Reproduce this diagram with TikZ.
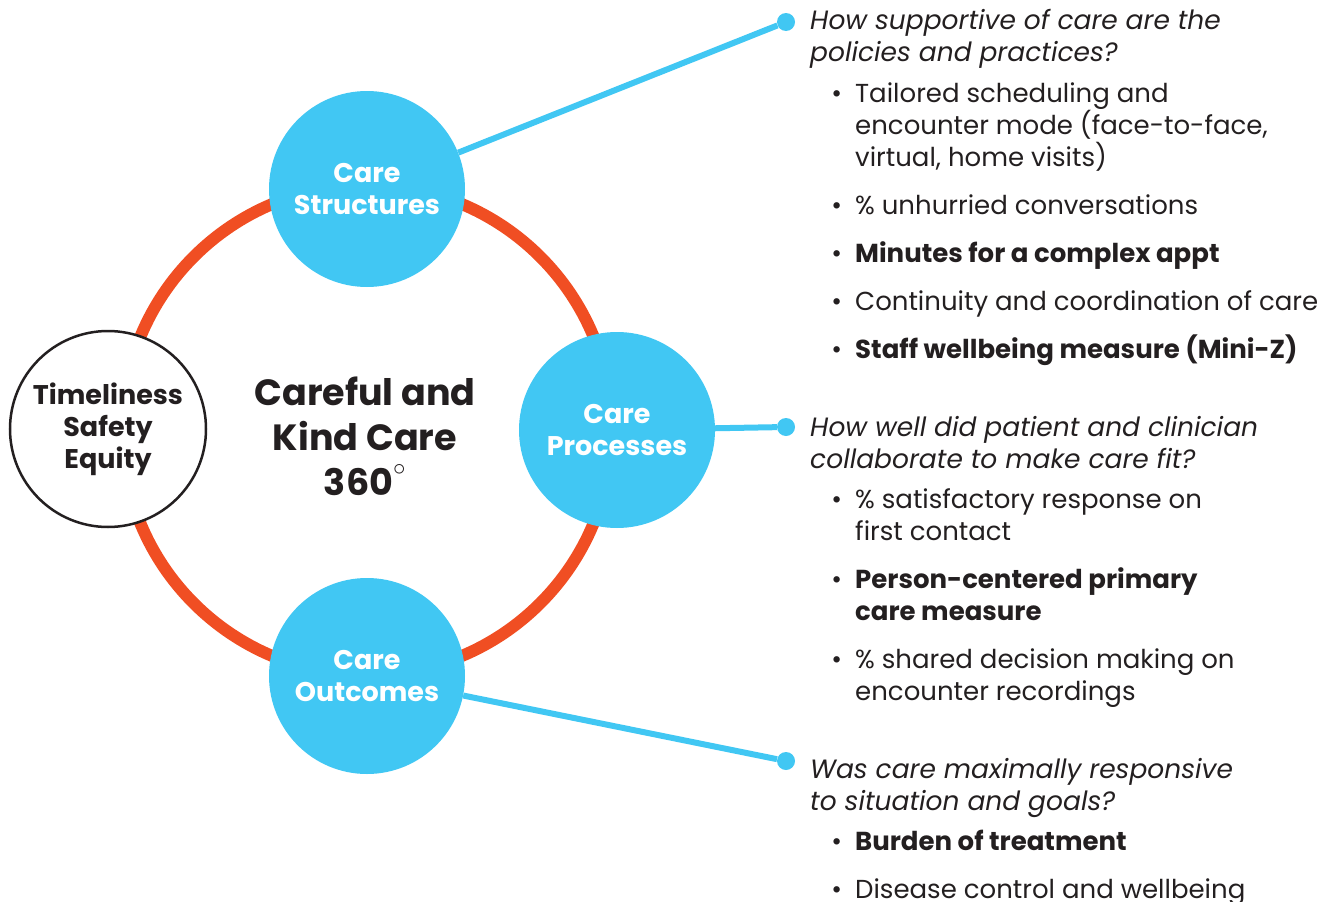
\documentclass[tikz,border=0pt]{standalone}
\usepackage{fontspec}
\setmainfont{Poppins}
\definecolor{careblue}{HTML}{41C7F3}
\definecolor{careorange}{HTML}{F04E23}
\definecolor{ink}{HTML}{231F20}
% bullet hanging left of the first line
\newcommand{\bul}{\llap{\textbullet\hspace{13pt}}}

\tikzset{
  ring/.style={careorange, line width=12pt},
  hub/.style={circle, fill=careblue, minimum size=196pt, inner sep=0pt,
    text=white, align=center, font=\fontsize{27}{32}\selectfont\bfseries},
  aim/.style={circle, draw=ink, line width=2.5pt, fill=white,
    minimum size=196pt, inner sep=0pt, text=ink, align=center,
    font=\fontsize{27}{32}\selectfont\bfseries},
  dot/.style={circle, fill=careblue, minimum size=18pt, inner sep=0pt},
  link/.style={careblue, line width=6pt},
  % multi-line nodes sit on the baseline of their last line
  ask/.style={anchor=base west, inner sep=0pt, text=ink, align=left,
    font=\fontsize{26.5}{32}\selectfont\itshape},
  item/.style={anchor=base west, inner sep=0pt, text=ink, align=left,
    font=\fontsize{26}{32}\selectfont}
}

\begin{document}
\begin{tikzpicture}[x=1pt, y=-1pt]
 \useasboundingbox (0,0) rectangle (1331,902);
 \coordinate (mid) at (367,430);
 \draw[ring] (mid) circle (245);

 % the three care circles and the aims on the left
 \node[hub] (str) at (367,189) {Care\\Structures};
 \node[hub] (proc) at (617,430) {Care\\Processes};
 \node[hub] (out) at (367,676) {Care\\Outcomes};
 \node[aim] (aims) at (108,429) {Timeliness\\Safety\\Equity};
 \node[text=ink, align=center, font=\fontsize{36.5}{45}\selectfont\bfseries]
   (title) at (365,436) {Careful and\\Kind Care\\360\raisebox{11pt}{$^\circ$}};

 % connectors to the questions
 \node[dot] (d1) at (786,22) {};
 \node[dot] (d2) at (786,427) {};
 \node[dot] (d3) at (786,761) {};
 \draw[link] (str) -- (d1);
 \draw[link] (proc) -- (d2);
 \draw[link] (out) -- (d3);

 % structures
 \node[ask] (q1) at (810,61) {How supportive of care are the\\policies and practices?};
 \node[item] (s1) at (855,166) {\bul Tailored scheduling and\\encounter mode (face-to-face,\\virtual, home visits)};
 \node[item] (s2) at (855,214) {\bul\% unhurried conversations};
 \node[item] (s3) at (855,262) {\bul\textbf{Minutes for a complex appt}};
 \node[item] (s4) at (855,310) {\bul Continuity and coordination of care};
 \node[item] (s5) at (855,358) {\bul\textbf{Staff wellbeing measure (Mini-Z)}};

 % processes
 \node[ask] (q2) at (810,468) {How well did patient and clinician\\collaborate to make care fit?};
 \node[item] (p1) at (855,540) {\bul\% satisfactory response on\\first contact};
 \node[item] (p2) at (855,620) {\bul\textbf{Person-centered primary}\\\textbf{care measure}};
 \node[item] (p3) at (855,700) {\bul\% shared decision making on\\encounter recordings};

 % outcomes
 \node[ask] (q3) at (810,810) {Was care maximally responsive\\to situation and goals?};
 \node[item] (o1) at (855,850) {\bul\textbf{Burden of treatment}};
 \node[item] (o2) at (855,898) {\bul Disease control and wellbeing};
\end{tikzpicture}
\end{document}
